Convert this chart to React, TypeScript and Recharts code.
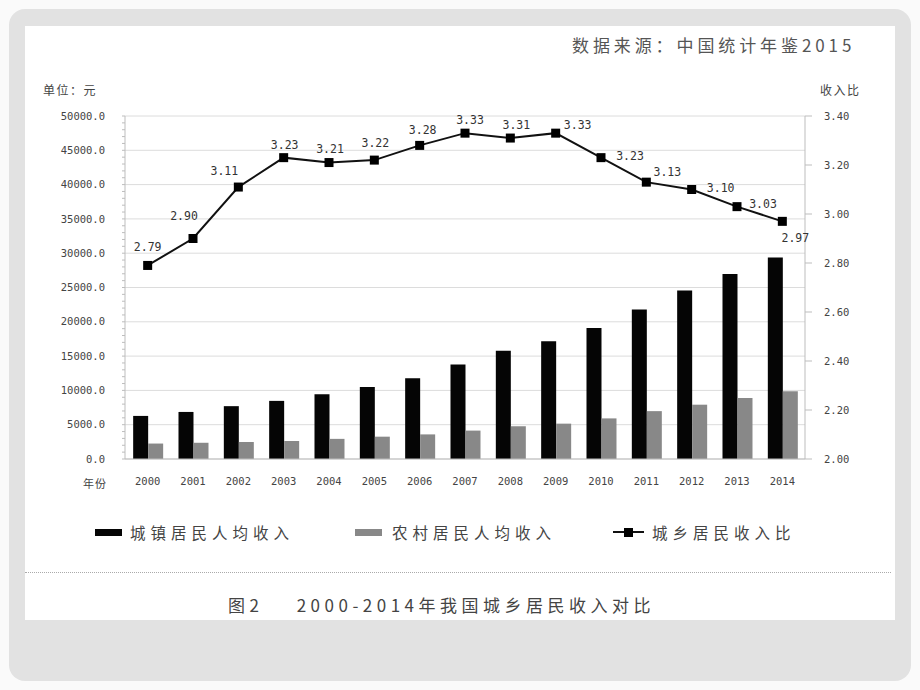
import { ComposedChart, Bar, Line, XAxis, YAxis, CartesianGrid } from 'recharts';

const years = ['2000', '2001', '2002', '2003', '2004', '2005', '2006', '2007', '2008', '2009', '2010', '2011', '2012', '2013', '2014'];
const urbanIncome = [6280, 6860, 7703, 8472, 9422, 10493, 11759, 13786, 15781, 17175, 19109, 21810, 24565, 26955, 29381];
const ruralIncome = [2253, 2366, 2476, 2622, 2936, 3255, 3587, 4140, 4761, 5153, 5919, 6977, 7917, 8896, 9892];
const incomeRatio = [2.79, 2.9, 3.11, 3.23, 3.21, 3.22, 3.28, 3.33, 3.31, 3.33, 3.23, 3.13, 3.1, 3.03, 2.97];

const leftMajorTicks = [0, 5000, 10000, 15000, 20000, 25000, 30000, 35000, 40000, 45000, 50000];
const rightTicks = [2.0, 2.2, 2.4, 2.6, 2.8, 3.0, 3.2, 3.4];
// minor ticks every 1000 on the left axis
const leftMinorTicks = Array.from({ length: 51 }, (_, i) => i * 1000);

// where each ratio label sits relative to its marker (hand placed in the original)
const labelOffsets: [number, number][] = [
  [0, -18], [-9, -23], [-14, -16], [1, -13], [1, -14], [1, -17], [3, -15], [5, -13],
  [6, -13], [22, -8], [29, -2], [21, -10], [29, -2], [26, -3], [13, 17],
];

const data = years.map((year, i) => ({
  year,
  urban: urbanIncome[i],
  rural: ruralIncome[i],
  ratio: incomeRatio[i],
}));

const NUM_FONT = '"DejaVu Sans Mono", monospace';
const CJK_FONT = '"Noto Sans CJK SC", sans-serif';
const AXIS_GREY = '#bdbdbd';

function LeftTick(props: any) {
  const { x, y, payload } = props;
  const major = payload.value % 5000 === 0;
  return (
    <g>
      <line x1={x - 3} x2={x} y1={y} y2={y} stroke={AXIS_GREY} />
      {major && (
        <text x={x - 20} y={y} dy="0.35em" textAnchor="end" fontSize={10.5} fontFamily={NUM_FONT} fill="#444">
          {payload.value.toFixed(1)}
        </text>
      )}
    </g>
  );
}

function SquareDot(props: any) {
  const { cx, cy, index } = props;
  if (cx == null || cy == null) return null;
  return <rect key={`dot-${index}`} x={cx - 4.5} y={cy - 4.5} width={9} height={9} fill="#000" />;
}

function RatioLabel(props: any) {
  const { x, y, index, value } = props;
  const [dx, dy] = labelOffsets[index] || [0, -15];
  return (
    <text x={x + dx} y={y + dy} dy="0.35em" textAnchor="middle" fontSize={11.5} fontFamily={NUM_FONT} fill="#333">
      {Number(value).toFixed(2)}
    </text>
  );
}

const legendText: React.CSSProperties = {
  position: 'absolute',
  top: 522,
  fontSize: 15.5,
  letterSpacing: 5,
  color: '#444',
  fontFamily: CJK_FONT,
  lineHeight: '20px',
  whiteSpace: 'nowrap',
};

export default function App() {
  return (
    <div style={{ position: 'absolute', left: 0, top: 0, width: 920, height: 690, background: '#fafafa', overflow: 'hidden' }}>
      <div style={{ position: 'absolute', left: 9, top: 9, width: 902, height: 672, background: '#e2e2e2', borderRadius: 16 }} />
      <div style={{ position: 'absolute', left: 25, top: 26, width: 870, height: 594, background: '#fff' }} />

      <div style={{ position: 'absolute', left: 572, top: 33, fontSize: 17, letterSpacing: 3.9, color: '#555', fontFamily: CJK_FONT, lineHeight: '24px', whiteSpace: 'nowrap' }}>
        数据来源：中国统计年鉴2015
      </div>
      <div style={{ position: 'absolute', left: 43, top: 81, fontSize: 12, letterSpacing: 1.5, color: '#444', fontFamily: CJK_FONT, lineHeight: '18px' }}>
        单位：元
      </div>
      <div style={{ position: 'absolute', left: 820, top: 81, fontSize: 12, letterSpacing: 1.5, color: '#444', fontFamily: CJK_FONT, lineHeight: '18px' }}>
        收入比
      </div>
      <div style={{ position: 'absolute', left: 83, top: 474, fontSize: 11, letterSpacing: 1, color: '#444', fontFamily: CJK_FONT, lineHeight: '18px' }}>
        年份
      </div>

      <div style={{ position: 'absolute', left: 0, top: 0 }}>
        <ComposedChart width={920} height={690} data={data} margin={{ top: 116, left: 65, right: 55, bottom: 201 }} barCategoryGap="18%" barGap={0}>
          <CartesianGrid vertical={false} yAxisId="left" horizontalValues={leftMajorTicks} stroke="#dcdcdc" />
          <XAxis dataKey="year" tickLine={false} tickSize={0} tickMargin={19} axisLine={{ stroke: AXIS_GREY }} height={30}
            tick={{ fontSize: 10.5, fontFamily: NUM_FONT, fill: '#444' }} interval={0} />
          <YAxis yAxisId="left" orientation="left" width={60} domain={[0, 50000]} ticks={leftMinorTicks} interval={0}
            tickLine={false} tickSize={0} tickMargin={0} axisLine={{ stroke: AXIS_GREY }} tick={<LeftTick />} />
          <YAxis yAxisId="right" orientation="right" width={60} domain={[2, 3.4]} ticks={rightTicks} interval={0}
            tickSize={7} tickMargin={12} tickLine={{ stroke: AXIS_GREY }} axisLine={{ stroke: AXIS_GREY }}
            tickFormatter={(v: number) => v.toFixed(2)} tick={{ fontSize: 10.5, fontFamily: NUM_FONT, fill: '#444' }} />
          <Bar yAxisId="left" dataKey="urban" fill="#050505" isAnimationActive={false} />
          <Bar yAxisId="left" dataKey="rural" fill="#888888" isAnimationActive={false} />
          <Line yAxisId="right" dataKey="ratio" stroke="#111" strokeWidth={2} dot={<SquareDot />} activeDot={false}
            label={<RatioLabel />} isAnimationActive={false} />
        </ComposedChart>
      </div>

      {/* legend */}
      <div style={{ position: 'absolute', left: 95, top: 529, width: 27, height: 7, background: '#050505' }} />
      <div style={{ ...legendText, left: 130 }}>城镇居民人均收入</div>
      <div style={{ position: 'absolute', left: 355, top: 529, width: 27, height: 7, background: '#888' }} />
      <div style={{ ...legendText, left: 392 }}>农村居民人均收入</div>
      <div style={{ position: 'absolute', left: 613, top: 531, width: 31, height: 2, background: '#111' }} />
      <div style={{ position: 'absolute', left: 624, top: 528, width: 9, height: 9, background: '#000' }} />
      <div style={{ ...legendText, left: 652 }}>城乡居民收入比</div>

      <div style={{ position: 'absolute', left: 25, top: 572, width: 866, borderTop: '1px dotted #aaa' }} />
      <div style={{ position: 'absolute', left: 228, top: 593, fontSize: 17, color: '#444', fontFamily: CJK_FONT, lineHeight: '24px', whiteSpace: 'pre', letterSpacing: 4.5 }}>
        {'图2    2000-2014年我国城乡居民收入对比'}
      </div>
    </div>
  );
}
